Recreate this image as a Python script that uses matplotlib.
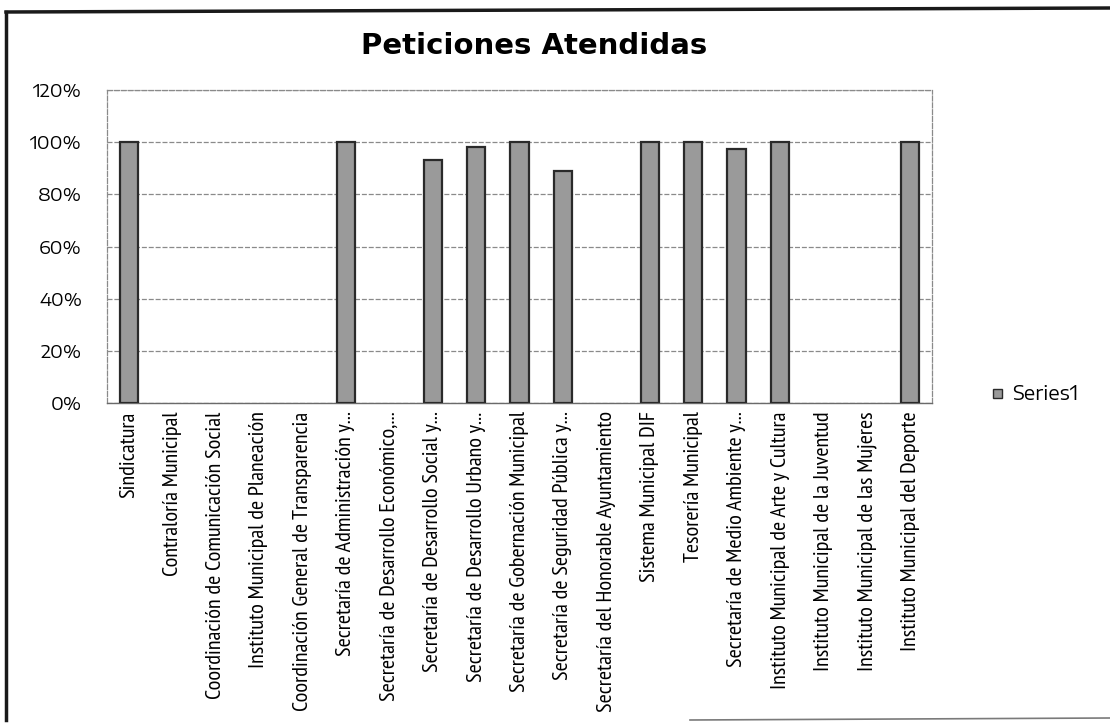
import matplotlib
matplotlib.use("Agg")
import matplotlib.pyplot as plt
from matplotlib import font_manager
from matplotlib.ticker import FuncFormatter
from matplotlib.patches import Rectangle
from matplotlib.lines import Line2D

categories = [
    "Sindicatura",
    "Contraloría Municipal",
    "Coordinación de Comunicación Social",
    "Instituto Municipal de Planeación",
    "Coordinación General de Transparencia",
    "Secretaría de Administración y...",
    "Secretaría de Desarrollo Económico,...",
    "Secretaría de Desarrollo Social y...",
    "Secretaría de Desarrollo Urbano y...",
    "Secretaría de Gobernación Municipal",
    "Secretaría de Seguridad Pública y...",
    "Secretaría del Honorable Ayuntamiento",
    "Sistema Municipal DIF",
    "Tesorería Municipal",
    "Secretaría de Medio Ambiente y...",
    "Instituto Municipal de Arte y Cultura",
    "Instituto Municipal de la Juventud",
    "Instituto Municipal de las Mujeres",
    "Instituto Municipal del Deporte",
]
values = [1.00, 0, 0, 0, 0, 1.00, 0, 0.93, 0.98, 1.00, 0.89, 0, 1.00, 1.00, 0.975, 1.00, 0, 0, 1.00]
yticks = [0, 0.2, 0.4, 0.6, 0.8, 1.0, 1.2]
title = "Peticiones Atendidas"
series_name = "Series1"

names = {f.name for f in font_manager.fontManager.ttflist}
narrow = "PT Sans Narrow" if "PT Sans Narrow" in names else "DejaVu Sans"
wide = "Encode Sans Expanded" if "Encode Sans Expanded" in names else "DejaVu Sans"

fig = plt.figure(figsize=(11.1, 7.24), dpi=100)
ax = fig.add_axes([107/1110, 1-403/724, (932-107)/1110, (403-90)/724])

x = list(range(len(categories)))
ax.bar(x, values, width=0.42, color="#9a9a9a", edgecolor="#2a2a2a",
       linewidth=[1.6 if v > 0 else 0 for v in values], zorder=3)

ax.set_xlim(-0.5, len(categories)-0.5)
ax.set_ylim(0, 1.2)
ax.set_yticks(yticks)
ax.yaxis.set_major_formatter(FuncFormatter(lambda v, p: f"{v*100:.0f}%"))
ax.grid(axis="y", color="#8a8a8a", linestyle=(0, (4, 1.5)), linewidth=0.9, zorder=0)
ax.tick_params(axis="y", length=0, pad=18, labelsize=13)
ax.tick_params(axis="x", length=0, pad=6)
for lab in ax.get_yticklabels():
    lab.set_fontfamily(wide)
ax.set_xticks(x)
ax.set_xticklabels(categories, rotation=90, fontfamily=narrow, fontsize=16, va="top", ha="center")
for s in ["top", "right", "left"]:
    ax.spines[s].set_color("#8a8a8a")
    ax.spines[s].set_linestyle((0, (4, 1.5)))
    ax.spines[s].set_linewidth(0.9)
ax.spines["bottom"].set_color("#6a6a6a")
ax.spines["bottom"].set_linewidth(1.0)

fig.text(534/1110, 1-46/724, title, ha="center", va="center", fontsize=21, fontweight="bold", fontfamily="DejaVu Sans")

# legend
fig.patches.append(Rectangle((993/1110, 1-398/724), 9/1110, 9/724, transform=fig.transFigure,
                             facecolor="#9a9a9a", edgecolor="#2a2a2a", linewidth=1.0))
fig.text(1012/1110, 1-394/724, series_name, ha="left", va="center", fontsize=14, fontfamily=wide)

# outer frame of the chart
fig.add_artist(Line2D([6/1110, 6/1110], [1-12/724, 1-720/724], transform=fig.transFigure, color="#1a1a1a", linewidth=2.5))
fig.add_artist(Line2D([6/1110, 1.0], [1-12/724, 1-8/724], transform=fig.transFigure, color="#1a1a1a", linewidth=2.5))
fig.add_artist(Line2D([690/1110, 1.0], [1-720/724, 1-718/724], transform=fig.transFigure, color="#7a7a7a", linewidth=1.2))

fig.savefig("out.png", dpi=100)
